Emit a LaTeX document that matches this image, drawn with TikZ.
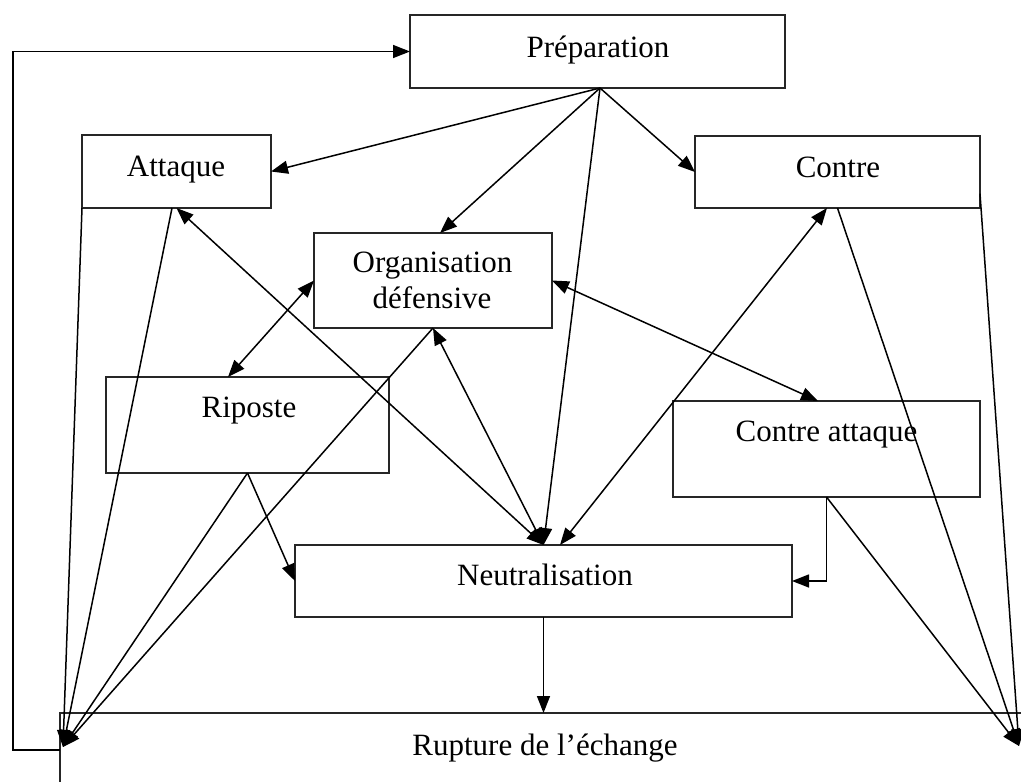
\documentclass[tikz,border=0pt]{standalone}
\usepackage{fontspec}
\setmainfont{Liberation Serif}
\usetikzlibrary{arrows.meta,calc}
\begin{document}
\begin{tikzpicture}[x=1pt,y=-1pt,
  box/.style={draw=black!85, line width=1.5pt, inner sep=0pt, outer sep=0pt},
  lbl/.style={font=\fontsize{31}{36}\selectfont, inner sep=0pt, anchor=base},
  link/.style={line width=1.5pt},
  >={Triangle[length=17pt,width=13pt]}]
\clip (0,0) rectangle (1021,782);
% boxes
\node[box, minimum width=375pt, minimum height=73pt] (prep) at (597.5,51.5) {};
\node[box, minimum width=189pt, minimum height=73pt] (att)  at (176.5,171.5) {};
\node[box, minimum width=285pt, minimum height=72pt] (con)  at (837.5,172) {};
\node[box, minimum width=238pt, minimum height=95pt] (org)  at (433,280.5) {};
\node[box, minimum width=283pt, minimum height=96pt] (rip)  at (247.5,425) {};
\node[box, minimum width=307pt, minimum height=96pt] (ca)   at (826.5,449) {};
\node[box, minimum width=497pt, minimum height=72pt] (neu)  at (543.5,581) {};
\node[box, minimum width=980pt, minimum height=74pt] (rup)  at (550,750) {};
% labels
\node[lbl] (prep-t) at (598,57) {Préparation};
\node[lbl] (att-t)  at (176,176) {Attaque};
\node[lbl] (con-t)  at (838,177) {Contre};
\node[lbl] (org-t1) at (432.5,272) {Organisation};
\node[lbl] (org-t2) at (432,308) {défensive};
\node[lbl] (rip-t)  at (249,417) {Riposte};
\node[lbl] (ca-t)   at (826.5,441) {Contre attaque};
\node[lbl] (neu-t)  at (545,585) {Neutralisation};
\node[lbl] (rup-t)  at (545,755) {Rupture de l’échange};
% free ends in the two lower corners
\coordinate (bl) at (63,747);
\coordinate (br) at (1019,746);
% from Préparation
\draw[link,->] ([xshift=2.5pt]prep.south) -- (att.east);
\draw[link,->] ([xshift=2.5pt]prep.south) -- ([xshift=7pt]org.north);
\draw[link,->] ([xshift=2.5pt]prep.south) -- (neu.north);
\draw[link,->] ([xshift=2.5pt]prep.south) -- (con.west);
% two-way links
\draw[link,<->] (att.south) -- (neu.north);
\draw[link,<->] (org.west) -- ([xshift=-19.5pt]rip.north);
\draw[link,<->] (org.south) -- (neu.north);
\draw[link,<->] (org.east) -- ([xshift=-8.5pt]ca.north);
\draw[link,<->] ([xshift=-10.5pt]con.south) -- ([xshift=16.5pt]neu.north);
% into Neutralisation
\draw[link,->] (rip.south) -- (neu.west);
\draw[link,->] (ca.south) |- (neu.east);
% to Rupture and back to Préparation
\draw[link,->] (neu.south) -- (neu.south |- rup.north);
\draw[link,->] (rup.west) -- ++(-47,0) |- (prep.west);
% converging on the lower left corner
\draw[link,->] (att.south west) -- (bl);
\draw[link,->] ([xshift=-4.5pt]att.south) -- (bl);
\draw[link,->] (org.south) -- (bl);
\draw[link,->] (rip.south) -- (bl);
% converging on the lower right corner
\draw[link,->] ($(con.north east)!0.8!(con.south east)$) -- (br);
\draw[link,->] (con.south) -- (br);
\draw[link,->] (ca.south) -- (br);
\end{tikzpicture}
\end{document}
